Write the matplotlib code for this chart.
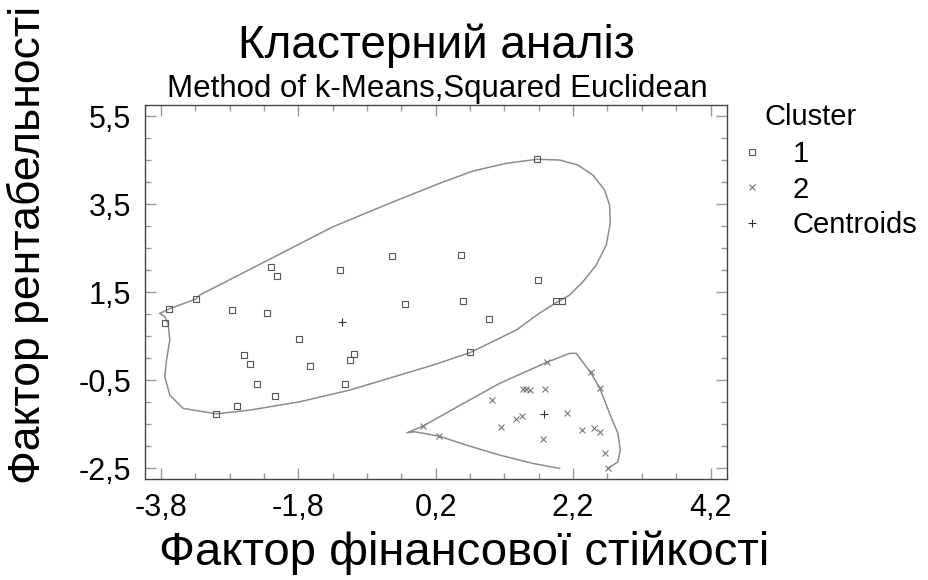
import matplotlib.pyplot as plt
from matplotlib.lines import Line2D
from matplotlib.ticker import MultipleLocator, FuncFormatter

plt.rcParams['font.family'] = ['Liberation Sans', 'DejaVu Sans']

# cluster 1 points
c1_x = [-3.732, -3.679, -3.291, -2.763, -2.248, -2.190, -2.103, -1.186, -0.436, 0.574,
        1.673, 1.694, 1.945, 2.033, 0.593, -0.251, 0.971, 0.695, -1.793, -2.593,
        -2.501, -0.993, -1.046, -1.628, -2.399, -1.113, -2.132, -2.690, -2.996]
c1_y = [0.807, 1.118, 1.345, 1.095, 1.034, 2.078, 1.867, 2.003, 2.314, 2.337,
        4.517, 1.783, 1.299, 1.299, 1.299, 1.224, 0.891, 0.141, 0.436, 0.066,
        -0.138, 0.089, -0.040, -0.177, -0.585, -0.585, -0.851, -1.078, -1.260]

# cluster 2 points
c2_x = [0.015, 0.248, 1.825, 2.455, 2.590, 1.470, 1.519, 1.578, 1.785, 1.019,
        2.110, 1.374, 1.455, 1.155, 2.334, 2.498, 2.590, 1.761, 2.668, 2.707]
c2_y = [-1.539, -1.766, -0.086, -0.320, -0.683, -0.699, -0.699, -0.714, -0.699, -0.941,
        -1.250, -1.387, -1.312, -1.569, -1.623, -1.593, -1.684, -1.841, -2.152, -2.500]

cent_x = [-1.163, 1.771]
cent_y = [0.816, -1.273]

# contour around cluster 1
hull1_x = [-3.815, -3.684, -3.291, -3.233, -2.190, -1.294, -0.436, 0.258, 0.743, 1.228,
           1.673, 2.004, 2.270, 2.488, 2.658, 2.731, 2.741, 2.683, 2.537, 2.343,
           2.149, 1.945, 1.713, 1.374, 0.695, 0.161, -0.324, -1.051, -1.778, -2.505,
           -2.990, -3.476, -3.669, -3.742, -3.717, -3.669, -3.694, -3.742, -3.800]
hull1_y = [1.020, 1.118, 1.345, 1.436, 2.269, 2.986, 3.540, 3.972, 4.251, 4.426,
           4.517, 4.501, 4.387, 4.160, 3.820, 3.479, 3.064, 2.571, 2.117, 1.738,
           1.435, 1.254, 1.027, 0.641, 0.125, -0.154, -0.381, -0.722, -0.987, -1.176,
           -1.260, -1.137, -0.835, -0.420, -0.040, 0.414, 0.793, 0.943, 1.004]

# contour around cluster 2 (open at the bottom)
hull2_x = [2.004, 1.615, 1.131, 0.647, 0.248, -0.105, -0.217, 0.015, 0.647, 1.131,
           1.825, 2.149, 2.246, 2.455, 2.590, 2.731, 2.852, 2.887, 2.852, 2.706]
hull2_y = [-2.500, -2.386, -2.198, -1.970, -1.766, -1.668, -1.691, -1.539, -0.987, -0.569,
           -0.086, 0.112, 0.112, -0.320, -0.683, -1.251, -1.705, -2.084, -2.350, -2.500]

legend_labels = ['1', '2', 'Centroids']

W, H = 929, 580
fig = plt.figure(figsize=(W / 100, H / 100), dpi=100)
ax = fig.add_axes([145 / W, 1 - 479 / H, (727 - 145) / W, (479 - 105) / H])

line_col = '#8c8c8c'
ax.plot(hull1_x, hull1_y, color=line_col, lw=1.1)
ax.plot(hull2_x, hull2_y, color=line_col, lw=1.1)

sq = dict(marker='s', ls='none', ms=4.5, mfc='none', mec='#555555', mew=0.8)
xx = dict(marker='x', ls='none', ms=5, mec='#777777', mew=0.8)
pl = dict(marker='+', ls='none', ms=6, mec='#333333', mew=0.8)
ax.plot(c1_x, c1_y, **sq)
ax.plot(c2_x, c2_y, **xx)
ax.plot(cent_x, cent_y, **pl)

ax.set_xlim(-4.03, 4.44)
ax.set_ylim(-2.74, 5.75)
ax.xaxis.set_major_locator(MultipleLocator(2, offset=0.2))
ax.xaxis.set_minor_locator(MultipleLocator(0.5, offset=0.2))
ax.yaxis.set_major_locator(MultipleLocator(2, offset=1.5))
ax.yaxis.set_minor_locator(MultipleLocator(0.5))
fmt = FuncFormatter(lambda v, p: f'{v:.1f}'.replace('.', ','))
ax.xaxis.set_major_formatter(fmt)
ax.yaxis.set_major_formatter(fmt)
ax.tick_params(which='both', direction='in', top=True, right=True, color='#999999', width=1)
ax.tick_params(which='major', length=8, labelsize=22)
ax.tick_params(axis='x', which='major', pad=10)
ax.tick_params(axis='y', which='major', pad=10)
ax.tick_params(which='minor', length=4.5)
for s in ax.spines.values():
    s.set_color('#444444')
    s.set_linewidth(1)

fig.text(436 / W, 1 - 58 / H, 'Кластерний аналіз', ha='center', va='baseline', fontsize=33)
fig.text(437 / W, 1 - 97 / H, 'Method of k-Means,Squared Euclidean', ha='center', va='baseline', fontsize=22.5)
fig.text(464 / W, 1 - 565 / H, 'Фактор фінансової стійкості', ha='center', va='baseline', fontsize=34)
fig.text(28 / W, 1 - 245 / H, 'Фактор рентабельності', ha='center', va='center', rotation=90, fontsize=32)

fig.text(765 / W, 1 - 117 / H, 'Cluster', ha='left', va='center', fontsize=21)
handles = [Line2D([], [], **sq), Line2D([], [], **xx), Line2D([], [], **pl)]
ax.legend(handles, legend_labels, loc='upper left', bbox_to_anchor=(740 / W, 1 - 140 / H),
          bbox_transform=fig.transFigure, frameon=False, fontsize=21, handlelength=0.8,
          handletextpad=1.0, labelspacing=0.26, borderpad=0, borderaxespad=0)

fig.savefig('out.png', dpi=100)
